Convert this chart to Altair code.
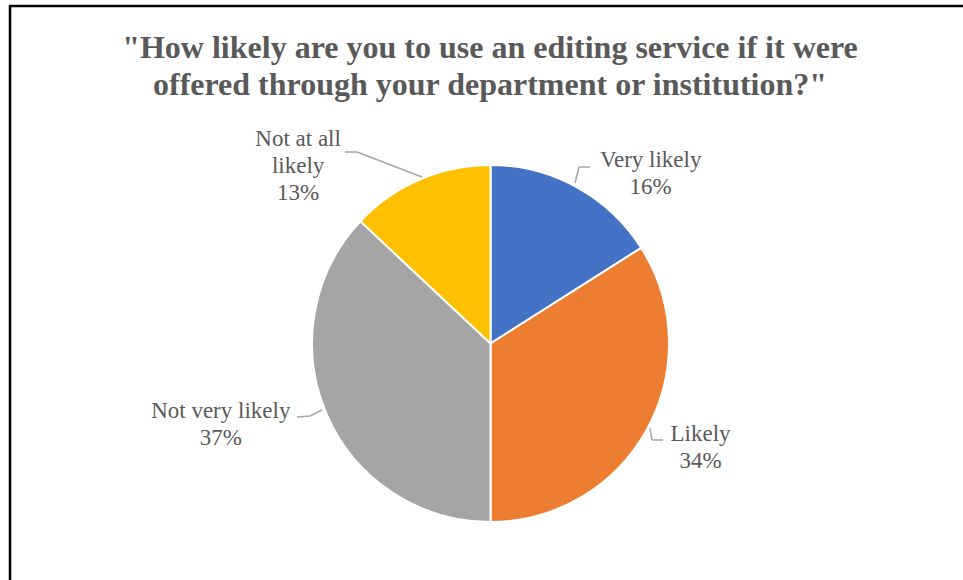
import altair as alt
import pandas as pd

# ---- data ----
categories = ["Very likely", "Likely", "Not very likely", "Not at all likely"]
percent = [16, 34, 37, 13]
label_names = ["Very likely", "Likely", "Not very likely", "Not at all\nlikely"]
colors = ["#4472C4", "#ED7D31", "#A5A5A5", "#FFC000"]
title_lines = [
    '"How likely are you to use an editing service if it were',
    'offered through your department or institution?"',
]

# ---- layout / style constants ----
W, H = 963, 580
CX, CY, R = 490.5, 343.5, 178.5
LABEL_R = 210
label_offsets = {
    "Very likely": (59, 0.5),
    "Likely": (26, -10.5),
    "Not very likely": (-77, -15.5),
    "Not at all likely": (-109, -12),
}
leader_segments = [
    (575, 183, 579, 167), (579, 167, 590, 167),
    (650, 428, 652, 440), (652, 440, 663, 440),
    (297, 417, 310, 416), (310, 416, 322, 410),
    (345, 152, 357, 152), (357, 152, 422, 177),
]
FONT = "Liberation Serif"
TXT = "#595959"

df = pd.DataFrame({
    "category": categories,
    "pct": percent,
    "order": list(range(len(categories))),
    "label": [f"{n}\n{v}%" for n, v in zip(label_names, percent)],
})

base = alt.Chart(df).encode(
    theta=alt.Theta("pct:Q", stack=True),
    order=alt.Order("order:Q"),
    x=alt.value(CX),
    y=alt.value(CY),
)

pie = base.mark_arc(outerRadius=R, stroke="white", strokeWidth=2).encode(
    color=alt.Color("category:N", scale=alt.Scale(domain=categories, range=colors), legend=None)
)

label_layers = []
for cat in categories:
    dx, dy = label_offsets[cat]
    lay = base.transform_calculate(
        shown=f"datum.category === '{cat}' ? datum.label : ''"
    ).mark_text(
        radius=LABEL_R, dx=dx, dy=dy, font=FONT, fontSize=23, color=TXT,
        lineBreak="\n", lineHeight=27, align="center", baseline="middle",
    ).encode(text="shown:N")
    label_layers.append(lay)

one = pd.DataFrame({"k": [0]})
rules = []
for (x1, y1, x2, y2) in leader_segments:
    rules.append(
        alt.Chart(one).mark_rule(color="#A6A6A6", strokeWidth=1.5).encode(
            x=alt.value(x1), y=alt.value(y1), x2=alt.value(x2), y2=alt.value(y2)
        )
    )

frame = [
    alt.Chart(one).mark_rule(color="black", strokeWidth=2.5).encode(
        x=alt.value(9), x2=alt.value(W), y=alt.value(6), y2=alt.value(6)),
    alt.Chart(one).mark_rule(color="black", strokeWidth=2.5).encode(
        x=alt.value(10), x2=alt.value(10), y=alt.value(5), y2=alt.value(H)),
]

title = alt.Chart(pd.DataFrame({"t": ["\n".join(title_lines)]})).mark_text(
    font=FONT, fontSize=32, fontWeight="bold", color=TXT, lineBreak="\n",
    lineHeight=37, align="center", baseline="middle",
).encode(text="t:N", x=alt.value(490), y=alt.value(47.5))

chart = alt.layer(pie, *label_layers, *rules, *frame, title).properties(
    width=W, height=H, padding=0, background="white",
    autosize=alt.AutoSizeParams(type="fit", contains="padding"),
).configure_view(stroke=None)

chart.save("out.html", embed_options={"renderer": "svg", "actions": False})
